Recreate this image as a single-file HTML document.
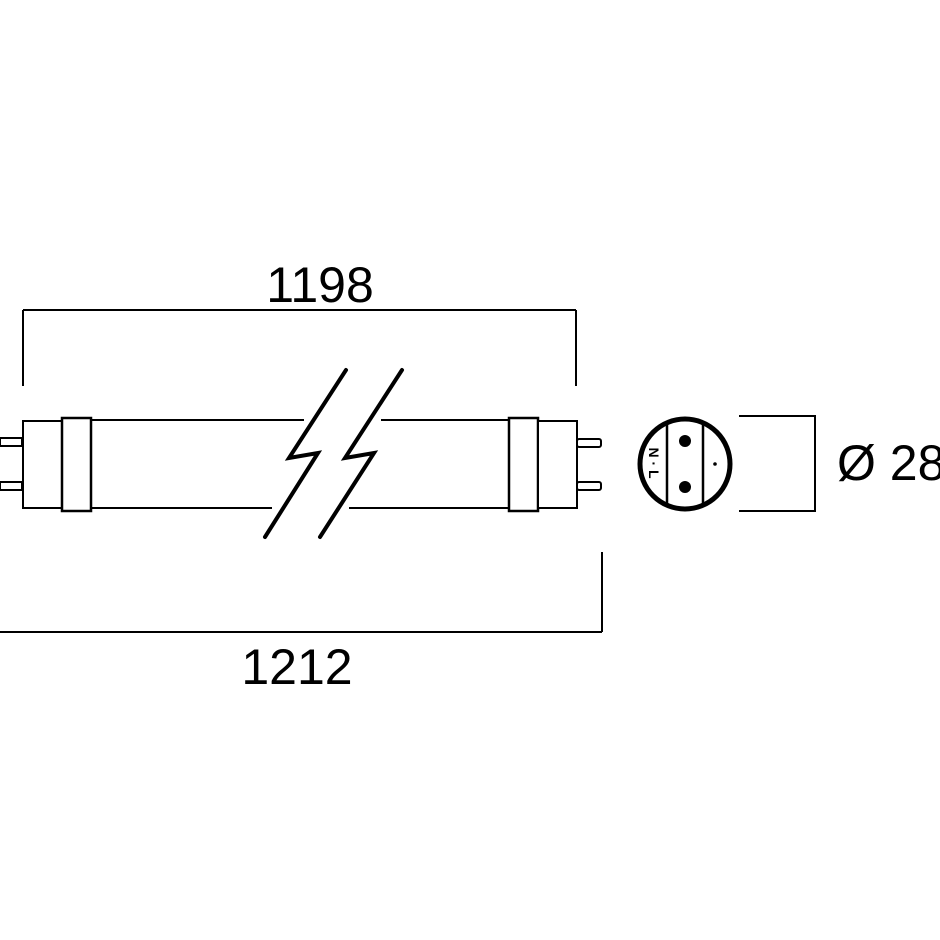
<!DOCTYPE html>
<html><head><style>html,body{margin:0;padding:0;background:#fff;}svg{display:block}</style></head>
<body>
<svg width="940" height="940" viewBox="0 0 940 940" xmlns="http://www.w3.org/2000/svg">
<rect width="940" height="940" fill="#fff"/>
<g stroke="#000" fill="none" stroke-width="2">
<path d="M23 310 H576 M23 310 V386 M576 310 V386"/>
<path d="M0 632 H602 M602 552 V632"/>
<rect x="0" y="438" width="22" height="8" fill="#fff"/>
<rect x="0" y="482" width="22" height="8" fill="#fff"/>
<rect x="23" y="421" width="39" height="87" fill="#fff"/>
<rect x="62" y="418" width="29" height="93" fill="#fff" stroke-width="2.5"/>
<rect x="509" y="418" width="29" height="93" fill="#fff" stroke-width="2.5"/>
<rect x="538" y="421" width="39" height="87" fill="#fff"/>
<rect x="577" y="439" width="24" height="8" rx="2" fill="#fff"/>
<rect x="577" y="482" width="24" height="8" rx="2" fill="#fff"/>
<path d="M91 420 H304 M381 420 H509 M91 508 H272 M349 508 H509"/>
<path d="M346 370 L289 458 L318 453 L265 537 M402 370 L345 458 L374 453 L320 537" stroke-width="4" stroke-linecap="round" stroke-linejoin="miter"/>
<circle cx="685" cy="464" r="45" stroke-width="5"/>
<path d="M667 423 V505 M703 423 V505" stroke-width="2.5"/>
<path d="M739 416 H815 V511 H739"/>
</g>
<circle cx="685" cy="441" r="6"/>
<circle cx="685" cy="487" r="6"/>
<circle cx="715" cy="464" r="1.8"/>
<text x="654" y="463" font-family="Liberation Sans, sans-serif" font-weight="bold" font-size="14" transform="rotate(90 654 463)" text-anchor="middle" dominant-baseline="central">N · L</text>
<g font-family="Liberation Sans, sans-serif" font-size="50" fill="#000">
<text x="320" y="302" text-anchor="middle">1198</text>
<text x="297" y="684" text-anchor="middle">1212</text>
<text x="837" y="480">Ø 28</text>
</g>
</svg>
</body></html>
